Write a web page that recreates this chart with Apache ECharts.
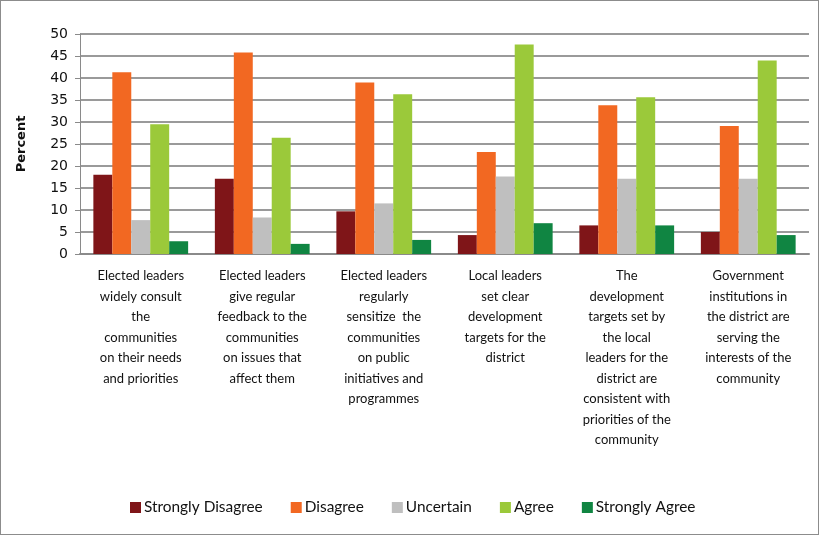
<!DOCTYPE html>
<html>
<head>
<meta charset="utf-8">
<script src="https://cdn.jsdelivr.net/npm/echarts@6/dist/echarts.min.js"></script>
<style>
  html, body { margin: 0; padding: 0; background: #fff; }
  #chart { width: 819px; height: 535px; box-sizing: border-box; border: 1px solid #8c8c8c; }
</style>
</head>
<body>
<div id="chart"></div>
<script>
// Survey statements (line breaks as shown under each group)
const categories = [
  'Elected leaders\nwidely consult\nthe\ncommunities\non their needs\nand priorities',
  'Elected leaders\ngive regular\nfeedback to the\ncommunities\non issues that\naffect them',
  'Elected leaders\nregularly\nsensitize  the\ncommunities\non public\ninitiatives and\nprogrammes',
  'Local leaders\nset clear\ndevelopment\ntargets for the\ndistrict',
  'The\ndevelopment\ntargets set by\nthe local\nleaders for the\ndistrict are\nconsistent with\npriorities of the\ncommunity',
  'Government\ninstitutions in\nthe district are\nserving the\ninterests of the\ncommunity'
];

// Response shares, percent
const stronglyDisagree = [18.0, 17.1, 9.7, 4.3, 6.5, 5.0];
const disagree         = [41.3, 45.8, 39.0, 23.2, 33.8, 29.1];
const uncertain        = [7.7, 8.3, 11.5, 17.6, 17.1, 17.1];
const agree            = [29.5, 26.4, 36.3, 47.6, 35.6, 44.0];
const stronglyAgree    = [2.9, 2.3, 3.2, 7.0, 6.5, 4.3];

const seriesNames = ['Strongly Disagree', 'Disagree', 'Uncertain', 'Agree', 'Strongly Agree'];
const seriesData = [stronglyDisagree, disagree, uncertain, agree, stronglyAgree];
const colors = ['#7f1518', '#f26822', '#bfbfbf', '#9bc93a', '#108542'];

const chart = echarts.init(document.getElementById('chart'), null, { renderer: 'canvas' });

chart.setOption({
  animation: false,
  color: colors,
  grid: { left: 79, right: 9, top: 33, bottom: 280, containLabel: false },
  legend: {
    data: seriesNames,
    top: 494,
    left: 124,
    itemWidth: 11,
    itemHeight: 11,
    itemGap: 28,
    icon: 'rect',
    textStyle: { fontFamily: 'Lato', fontSize: 15.4, color: '#111', padding: [0, 0, 0, -2] }
  },
  xAxis: {
    type: 'category',
    data: categories,
    axisLine: { show: true, lineStyle: { color: '#8a8a8a', width: 2 } },
    axisTick: { show: false },
    axisLabel: {
      interval: 0,
      margin: 12,
      fontFamily: 'Lato',
      fontSize: 13,
      lineHeight: 20.5,
      color: '#111',
      align: 'center'
    }
  },
  yAxis: {
    type: 'value',
    min: 0,
    max: 50,
    interval: 5,
    name: 'Percent',
    nameLocation: 'middle',
    nameGap: 52,
    nameRotate: 90,
    nameTextStyle: { fontFamily: 'DejaVu Sans', fontSize: 13, fontWeight: 'bold', color: '#111' },
    axisLine: { show: true, lineStyle: { color: '#8a8a8a', width: 1 } },
    axisTick: { show: true, length: 5, lineStyle: { color: '#8a8a8a' } },
    axisLabel: { fontFamily: 'DejaVu Sans', fontSize: 14, color: '#111', margin: 12 },
    splitLine: { show: true, lineStyle: { color: '#9a9a9a', width: 2 } }
  },
  series: seriesNames.map((name, i) => ({
    name: name,
    type: 'bar',
    data: seriesData[i],
    barGap: '0%',
    barCategoryGap: '22%',
    itemStyle: { color: colors[i] }
  }))
});
</script>
</body>
</html>
